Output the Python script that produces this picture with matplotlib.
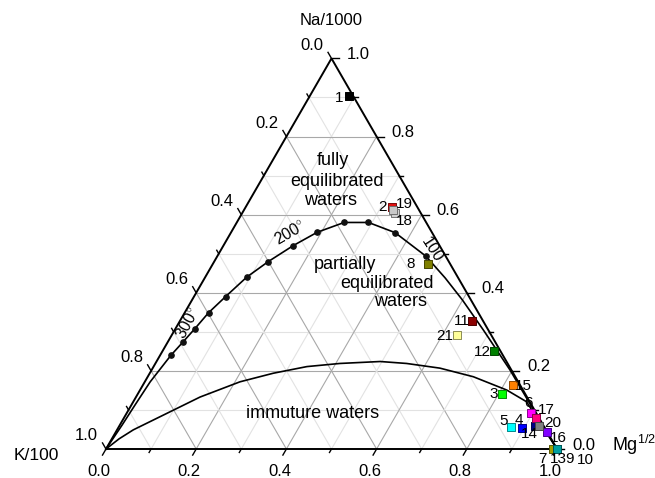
import numpy as np
import matplotlib.pyplot as plt
from matplotlib import colors as mcolors

plt.rcParams['font.family'] = ['Liberation Sans', 'DejaVu Sans']
plt.rcParams['mathtext.fontset'] = 'custom'
plt.rcParams['mathtext.rm'] = 'Liberation Sans'

# muestras (fracciones Na/1000, K/100, Mg^1/2)
ids = ['1', '2', '3', '4', '5', '6', '7', '8', '9', '10', '11',
       '12', '13', '14', '15', '16', '17', '18', '19', '20', '21']
na = [0.904, 0.619, 0.140, 0.055, 0.057, 0.093, 0.000, 0.474, 0.000, 0.000, 0.329,
      0.251, 0.000, 0.060, 0.164, 0.044, 0.079, 0.604, 0.612, 0.059, 0.292]
k = [0.010, 0.057, 0.053, 0.050, 0.074, 0.011, 0.008, 0.049, 0.000, 0.000, 0.023,
     0.014, 0.000, 0.019, 0.016, 0.001, 0.007, 0.057, 0.057, 0.010, 0.075]
mg = [0.086, 0.324, 0.807, 0.895, 0.869, 0.896, 0.992, 0.477, 1.000, 1.000, 0.648,
      0.735, 1.000, 0.921, 0.820, 0.955, 0.914, 0.339, 0.331, 0.931, 0.633]
cols = ['#000000', '#e01010', '#00ff00', '#0000ff', '#00ffff', '#ff00ff', '#a0a000',
        '#808000', '#006060', '#008080', '#8b0000', '#008000', '#00a0a0', '#000080',
        '#ff8000', '#8000ff', '#ff0080', '#d0d0d0', '#c8c8c8', '#808080', '#ffff99']

# linea de equilibrio total
feq_na = [0.0, 0.061, 0.113, 0.172, 0.240, 0.275, 0.308, 0.349, 0.390, 0.440, 0.480,
          0.521, 0.555, 0.580, 0.580, 0.554, 0.494, 0.438, 0.382, 0.305, 0.202, 0.100, 0.0]
feq_mg = [0.0, 0.005, 0.008, 0.012, 0.024, 0.034, 0.043, 0.053, 0.070, 0.092, 0.120,
          0.155, 0.191, 0.238, 0.292, 0.364, 0.462, 0.533, 0.599, 0.684, 0.795, 0.898, 1.0]
# puntos de temperatura 340..100 C cada 20
dot_na = [0.240, 0.275, 0.308, 0.349, 0.390, 0.440, 0.480, 0.521, 0.555, 0.580, 0.580, 0.554, 0.494]
dot_mg = [0.024, 0.034, 0.043, 0.053, 0.070, 0.092, 0.120, 0.155, 0.191, 0.238, 0.292, 0.364, 0.462]

# linea de aguas inmaduras
imm_na = [0.0, 0.026, 0.049, 0.091, 0.133, 0.172, 0.194, 0.211, 0.219, 0.224, 0.219, 0.207,
          0.185, 0.151, 0.121, 0.060, 0.0]
imm_mg = [0.0, 0.016, 0.036, 0.089, 0.142, 0.211, 0.274, 0.340, 0.409, 0.496, 0.557, 0.637,
          0.722, 0.813, 0.872, 0.936, 1.0]

ticks = [0.0, 0.2, 0.4, 0.6, 0.8, 1.0]

S3 = np.sqrt(3) / 2


def xy(a_na, a_mg):
    a_na = np.asarray(a_na, dtype=float)
    a_mg = np.asarray(a_mg, dtype=float)
    return a_mg + a_na / 2, a_na * S3


fig = plt.figure(figsize=(6.55, 4.78), dpi=100)
ax = fig.add_axes([0, 0, 1, 1])
ax.set_xlim(-106 / 451, 549 / 451)
ax.set_ylim(-29 / 451, 449 / 451)
ax.axis('off')

# rejilla
for i in range(1, 10):
    v = i / 10
    c = '#a8a8a8' if i % 2 == 0 else '#e2e2e2'
    for a, b in [([v, v], [0, 1 - v]), ([0, 1 - v], [v, v]), ([0, 1 - v], [1 - v, 0])]:
        x, y = xy(a, b)
        ax.plot(x, y, color=c, lw=0.8, zorder=1)

# bordes
ax.plot([0, 1, 0.5, 0], [0, 0, S3, 0], color='k', lw=1.4, zorder=3, solid_joinstyle='miter')

# marcas y etiquetas
px = 1 / 451
for i in range(11):
    v = i / 10
    L = 7 * px if i % 2 == 0 else 4 * px
    # abajo (Mg)
    ax.plot([v, v - 0.5 * L], [0, -S3 * L], color='k', lw=1.0, zorder=3)
    # izquierda (K)
    lx, ly = (1 - v) / 2, (1 - v) * S3
    ax.plot([lx, lx - 0.5 * L], [ly, ly + S3 * L], color='k', lw=1.0, zorder=3)
    # derecha (Na)
    rx, ry = 1 - v / 2, v * S3
    ax.plot([rx, rx + L], [ry, ry], color='k', lw=1.0, zorder=3)

for v in ticks:
    ax.annotate(f'{v:.1f}', xy=(v, 0), xytext=(-7 * 0.72, -23 * 0.72),
                textcoords='offset points', ha='center', va='center', fontsize=12)
    ax.annotate(f'{v:.1f}', xy=((1 - v) / 2, (1 - v) * S3), xytext=(-19.5 * 0.72, 13 * 0.72),
                textcoords='offset points', ha='center', va='center', fontsize=12)
    ax.annotate(f'{v:.1f}', xy=(1 - v / 2, v * S3), xytext=(15 * 0.72, 4 * 0.72),
                textcoords='offset points', ha='left', va='center', fontsize=12)

ax.annotate('Na/1000', xy=(0.5, S3), xytext=(0, 38 * 0.72), textcoords='offset points',
            ha='center', va='center', fontsize=12)
ax.annotate('K/100', xy=(0, 0), xytext=(-70 * 0.72, -7 * 0.72), textcoords='offset points',
            ha='center', va='center', fontsize=12.5)
ax.annotate('Mg$^{\\mathregular{1/2}}$', xy=(1, 0), xytext=(55 * 0.72, 4 * 0.72),
            textcoords='offset points', ha='left', va='center', fontsize=13)

# curvas
x, y = xy(feq_na, feq_mg)
ax.plot(x, y, color='k', lw=1.2, zorder=4)
x, y = xy(dot_na, dot_mg)
ax.plot(x, y, 'o', color='#111111', ms=3.8, zorder=5)
x, y = xy(imm_na, imm_mg)
ax.plot(x, y, color='k', lw=1.2, zorder=4)

# textos de regiones
ax.text(0.503, 0.639, 'fully', ha='center', va='center', fontsize=13)
ax.text(0.512, 0.594, 'equilibrated', ha='center', va='center', fontsize=13)
ax.text(0.497, 0.550, 'waters', ha='center', va='center', fontsize=13)
ax.text(0.530, 0.408, 'partially', ha='center', va='center', fontsize=13)
ax.text(0.623, 0.366, 'equilibrated', ha='center', va='center', fontsize=13)
ax.text(0.652, 0.326, 'waters', ha='center', va='center', fontsize=13)
ax.text(0.459, 0.078, 'immuture waters', ha='center', va='center', fontsize=13)

ax.text(0.182, 0.279, '300$^{\\circ}$', rotation=62, ha='center', va='center', fontsize=11.5)
ax.text(0.408, 0.479, '200$^{\\circ}$', rotation=30, ha='center', va='center', fontsize=11.5)
ax.text(0.723, 0.441, '100', rotation=-57, ha='center', va='center', fontsize=11.5)

# muestras
tot = np.array(na) + np.array(k) + np.array(mg)
x, y = xy(np.array(na) / tot, np.array(mg) / tot)
for i in range(len(ids)):
    edge = np.array(mcolors.to_rgb(cols[i])) * 0.55
    ax.scatter(x[i], y[i], marker='s', s=34, color=cols[i], edgecolors=[edge],
               linewidths=0.7, zorder=6 + i * 0.01)

lab_off = {'1': (-10, 2), '2': (-9, 0), '3': (-8, 0), '4': (-3, -8), '5': (-7, -6),
           '6': (-2.5, -10), '7': (-11, 10), '8': (-17, 0), '9': (13, 10), '10': (28, 10.5),
           '11': (-11, 0), '12': (-11.5, 1), '13': (1, 10), '14': (-6, 8), '15': (11, 1),
           '16': (12, 6), '17': (10, -8), '18': (9, 8), '19': (11.5, -6), '20': (14, -3),
           '21': (-13, 1)}
for i, lab in enumerate(ids):
    dx, dy = lab_off[lab]
    ax.annotate(lab, xy=(x[i], y[i]), xytext=(dx * 0.72, -dy * 0.72), textcoords='offset points',
                ha='center', va='center', fontsize=11, zorder=7)

fig.savefig('out.png', dpi=100)
